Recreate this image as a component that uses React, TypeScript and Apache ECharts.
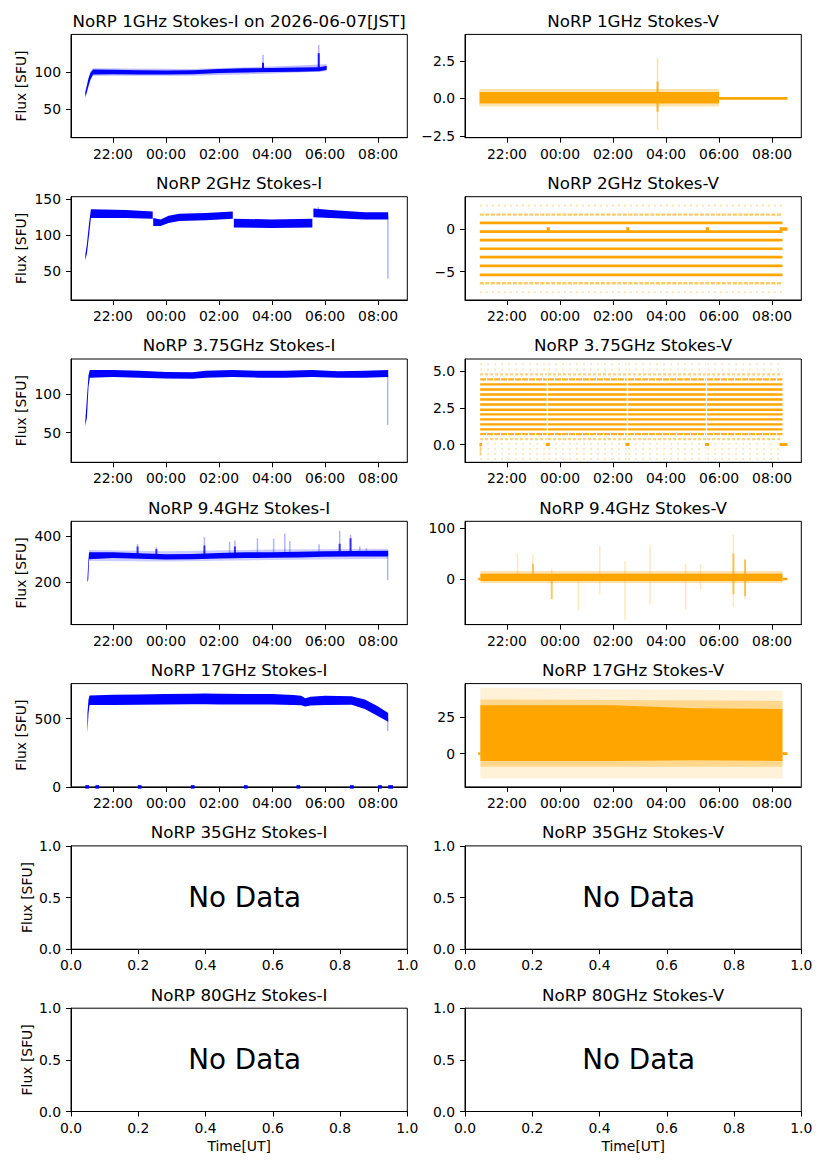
import React, { useEffect, useRef } from 'react';
import * as echarts from 'echarts';

// time is in hours from 2026-06-06 00:00 UT (24 = 00:00 of 06-07)
const X_MIN = 20.42;
const X_MAX = 33.1;
const X_TICKS = [22, 24, 26, 28, 30, 32];
const UNIT_X_TICKS = [0, 0.2, 0.4, 0.6, 0.8, 1.0];
const UNIT_Y_TICKS = [0, 0.5, 1.0];

const BLUE = '#0000ff';
const ORANGE = '#ffa500';
const FONT = 'DejaVu Sans';

// ---- 1 GHz ----  bands are [time, low, high]
const I1_HALO = [[[20.96, 65, 75], [21.15, 89, 101], [21.25, 95.5, 105.5], [25, 95.5, 104.5], [28, 98.5, 108], [30.06, 101.5, 111]]];
const I1_CORE = [[
  [20.96, 67, 73], [21.0, 71, 79], [21.08, 82, 92], [21.15, 90, 99], [21.25, 97, 104], [22, 97.5, 103.5],
  [23, 97, 103], [24, 97, 102.5], [25, 97.5, 103], [26, 99, 104.5], [27, 100, 105.5], [28, 100.5, 106],
  [29, 101, 106.5], [29.8, 101.5, 107], [30.06, 103.5, 109],
]];
const I1_SPIKES = [[27.66, 103, 124], [29.76, 104, 137]];
const I1_DENSE = [[27.66, 103, 113], [29.76, 104, 126]];

const V1_HALO = [[[20.96, -0.55, 0.62], [30.0, -0.55, 0.62]]];
const V1_CORE = [[[20.97, -0.35, 0.42], [30.0, -0.35, 0.42]]];
const V1_SPIKES = [[27.68, -2.1, 2.7]];
const V1_DENSE = [[27.68, -0.9, 1.1]];
const V1_ZERO = [[30.0, 32.58]];

// ---- 2 GHz ----
const I2_CORE = [
  [[20.96, 66, 73], [21.02, 75, 88], [21.1, 100, 116], [21.17, 124, 136], [22.5, 124, 135], [23.5, 123, 133]],
  [[23.52, 113, 124], [23.8, 113, 122], [24.1, 117, 127], [24.5, 120, 130], [25.5, 121, 131], [26.52, 123, 133]],
  [[26.56, 111, 123], [28.0, 110, 122], [29.52, 111, 123]],
  [[29.56, 125, 137], [30.2, 124, 135], [31.5, 122, 132], [32.38, 122, 132]],
];
const I2_SPIKES = [[32.37, 40, 126], [29.75, 130, 139]];

const LEVELS_2V_SOLID = [0.71, -0.31, -1.3, -2.32, -3.31, -4.33, -5.39];
const LEVELS_2V_MEDIUM = [1.69, -6.38];
const LEVELS_2V_SPARSE = [2.76, -7.44];
const SEGS_2V = [[20.98, 32.39]];
const ZERO_2V = [[23.5, 23.62], [26.5, 26.62], [29.5, 29.62], [32.28, 32.58]];

// ---- 3.75 GHz ----
const I375_CORE = [[
  [20.96, 59, 66], [21.02, 70, 95], [21.08, 110, 125], [21.13, 122, 132], [22, 123, 132], [23, 122, 131],
  [24, 121, 129.5], [25, 120.5, 129], [25.5, 122, 131], [26.5, 123, 132], [27.5, 122, 131], [28.5, 122, 131],
  [29.5, 123, 132], [30.5, 122, 130.5], [31.5, 122, 131], [32.38, 123, 132],
]];
const I375_SPIKES = [[32.36, 60, 125]];

const LEVELS_375V_SOLID = [4.09, 3.74, 3.4, 3.06, 2.72, 2.37, 2.05, 1.71, 1.37, 1.03];
const LEVELS_375V_SEMI = [4.43, 0.71];
const LEVELS_375V_MEDIUM = [4.77, 0.37];
const LEVELS_375V_SPARSE = [5.46, 5.11, 0.05, -0.3, -0.64, -0.98];
const SEGS_375V = [[20.99, 23.5], [23.55, 26.52], [26.57, 29.5], [29.55, 32.39]];
const ZERO_375V = [[20.97, 21.06], [23.47, 23.62], [26.47, 26.62], [29.47, 29.62], [32.28, 32.58]];
const V375_SPIKES = [[21.0, -0.75, 0.1]];

// ---- 9.4 GHz ----
const I94_HALO = [[[21.1, 292, 340], [24, 290, 335], [28, 296, 342], [32.38, 302, 346]]];
const I94_CORE = [[
  [21.04, 198, 215], [21.07, 210, 285], [21.1, 300, 330], [22, 305, 330], [23, 302, 326], [24, 298, 322],
  [25, 300, 323], [26, 303, 327], [27, 305, 330], [28, 306, 330], [29, 307, 332], [30, 310, 335],
  [31, 312, 336], [32.38, 312, 337],
]];
const I94_SPIKES = [
  [22.93, 320, 366], [23.64, 320, 352], [25.45, 320, 396], [26.4, 320, 375], [26.6, 320, 382],
  [27.45, 320, 392], [28.06, 320, 390], [28.48, 320, 412], [28.67, 320, 380], [29.77, 320, 365],
  [30.55, 320, 425], [30.96, 320, 407], [31.31, 320, 355], [31.56, 320, 348], [32.36, 208, 310],
];
const I94_DENSE = [[22.93, 320, 355], [23.64, 320, 345], [25.45, 320, 360], [26.6, 320, 355], [30.55, 320, 368], [30.96, 320, 392]];

const V94_HALO = [[[21.0, -8, 15], [32.39, -8, 15]]];
const V94_CORE = [[[21.0, -4, 10.5], [32.39, -4, 10.5]]];
const V94_SPIKES = [
  [22.98, -5, 48], [23.69, -10, 20], [25.5, -30, 65], [26.45, -80, 35], [27.4, -50, 67],
  [28.74, -60, 30], [30.54, -55, 87], [30.98, -40, 40], [24.7, -62, 5], [22.4, 5, 50], [29.3, -20, 30],
];
const V94_DENSE = [[22.98, 8, 30], [23.69, -40, 0], [30.54, -30, 50], [30.98, -34, 38]];
const V94_ZERO = [[20.92, 21.0], [32.39, 32.58]];

// ---- 17 GHz ----
const I17_CORE = [[
  [21.04, 395, 540], [21.08, 540, 640], [21.12, 600, 670], [22, 600, 675], [23, 602, 677], [24, 603, 680],
  [25, 605, 683], [25.5, 606, 685], [26, 604, 682], [27, 603, 681], [28, 603, 680], [28.8, 600, 674],
  [29.1, 598, 668], [29.25, 590, 650], [29.45, 597, 660], [30, 600, 668], [31, 602, 665], [31.5, 570, 640],
  [32, 517, 590], [32.38, 478, 541],
]];
const I17_SPIKES = [[32.36, 410, 500]];
const I17_ZERO = [
  [20.96, 21.1], [21.34, 21.48], [22.94, 23.08], [24.94, 25.08], [26.94, 27.08],
  [28.92, 29.06], [30.94, 31.08], [32.0, 32.14], [32.38, 32.56],
];

const V17_HALO = [[[21.0, -17, 45], [32.39, -17, 43]]];
const V17_MID = [[[21.0, -9, 37], [32.39, -9, 36]]];
const V17_CORE = [[[21.0, -5, 33], [26, -5, 33], [29, -4.5, 31], [32.39, -5, 30.5]]];
const V17_ZERO = [[20.92, 21.0], [32.39, 32.58]];

const TITLES = [
  'NoRP 1GHz Stokes-I on 2026-06-07[JST]', 'NoRP 1GHz Stokes-V',
  'NoRP 2GHz Stokes-I', 'NoRP 2GHz Stokes-V',
  'NoRP 3.75GHz Stokes-I', 'NoRP 3.75GHz Stokes-V',
  'NoRP 9.4GHz Stokes-I', 'NoRP 9.4GHz Stokes-V',
  'NoRP 17GHz Stokes-I', 'NoRP 17GHz Stokes-V',
  'NoRP 35GHz Stokes-I', 'NoRP 35GHz Stokes-V',
  'NoRP 80GHz Stokes-I', 'NoRP 80GHz Stokes-V',
];
const Y_RANGES = [
  [11.6, 151.4], [-2.63, 4.27], [10.5, 153.5], [-8.35, 3.8], [11.3, 146.4], [-1.21, 5.82],
  [13, 466], [-89.6, 113.3], [0, 757], [-22.7, 47.8], [0, 1], [0, 1], [0, 1], [0, 1],
];
const Y_TICKS = [
  [50, 100], [-2.5, 0, 2.5], [50, 100, 150], [-5, 0], [50, 100], [0, 2.5, 5],
  [200, 400], [0, 100], [0, 500], [0, 25], UNIT_Y_TICKS, UNIT_Y_TICKS, UNIT_Y_TICKS, UNIT_Y_TICKS,
];
const Y_DECIMALS = [0, 1, 0, 0, 0, 1, 0, 0, 0, 0, 1, 1, 1, 1];

const ROW_TOP = 34.4;
const ROW_STEP = 162.3;
const ROW_H = 103.3;
const COL_X = [71, 465];
const COL_W = 336.3;

const fmt = (v: number, d: number) => (v < 0 ? '\u2212' : '') + Math.abs(v).toFixed(d);
const hourLabel = (v: number) => `${String(((Math.round(v) % 24) + 24) % 24).padStart(2, '0')}:00`;

const band = (gi: number, segs: number[][][], color: string, opacity: number) => ({
  type: 'custom', xAxisIndex: gi, yAxisIndex: gi, silent: true, clip: true,
  data: segs.map(s => s[0]),
  renderItem: (params: any, api: any) => {
    const seg = segs[params.dataIndex];
    const upper = seg.map(r => api.coord([r[0], r[2]]));
    const lower = seg.map(r => api.coord([r[0], r[1]])).reverse();
    return { type: 'polygon', shape: { points: upper.concat(lower) }, style: { fill: color, opacity } };
  },
});

const spikes = (gi: number, rows: number[][], color: string, width: number, opacity: number) => ({
  type: 'custom', xAxisIndex: gi, yAxisIndex: gi, silent: true, clip: true,
  data: rows,
  renderItem: (_: any, api: any) => {
    const a = api.coord([api.value(0), api.value(1)]);
    const b = api.coord([api.value(0), api.value(2)]);
    return { type: 'line', shape: { x1: a[0], y1: a[1], x2: b[0], y2: b[1] }, style: { stroke: color, lineWidth: width, opacity } };
  },
});

// rows: [t0, t1, value]
const hlines = (gi: number, rows: number[][], color: string, width: number, opacity: number, dash?: number[], clip = true) => ({
  type: 'custom', xAxisIndex: gi, yAxisIndex: gi, silent: true, clip,
  data: rows,
  renderItem: (_: any, api: any) => {
    const a = api.coord([api.value(0), api.value(2)]);
    const b = api.coord([api.value(1), api.value(2)]);
    return {
      type: 'line', shape: { x1: a[0], y1: a[1], x2: b[0], y2: b[1] },
      style: { stroke: color, lineWidth: width, opacity, lineDash: dash || null },
    };
  },
});

const levelRows = (levels: number[], segs: number[][]) =>
  levels.flatMap(l => segs.map(s => [s[0], s[1], l]));
const zeroRows = (segs: number[][]) => segs.map(s => [s[0], s[1], 0]);

function buildSeries() {
  const s: any[] = [];
  // 1 GHz
  s.push(band(0, I1_HALO, BLUE, 0.25), band(0, I1_CORE, BLUE, 1));
  s.push(spikes(0, I1_SPIKES, BLUE, 1.5, 0.3), spikes(0, I1_DENSE, BLUE, 2, 0.9));
  s.push(band(1, V1_HALO, ORANGE, 0.3), band(1, V1_CORE, ORANGE, 1));
  s.push(spikes(1, V1_SPIKES, ORANGE, 1.5, 0.35), spikes(1, V1_DENSE, ORANGE, 2, 0.8));
  s.push(hlines(1, zeroRows(V1_ZERO), ORANGE, 2.6, 1));
  // 2 GHz
  s.push(band(2, I2_CORE, BLUE, 1), spikes(2, I2_SPIKES, BLUE, 1.5, 0.3));
  s.push(hlines(3, levelRows(LEVELS_2V_SPARSE, SEGS_2V), ORANGE, 2.2, 0.3, [2, 4]));
  s.push(hlines(3, levelRows(LEVELS_2V_MEDIUM, SEGS_2V), ORANGE, 2.4, 0.6, [4, 1.5]));
  s.push(hlines(3, levelRows(LEVELS_2V_SOLID, SEGS_2V), ORANGE, 2.7, 1));
  s.push(hlines(3, zeroRows(ZERO_2V), ORANGE, 3.5, 1));
  // 3.75 GHz
  s.push(band(4, I375_CORE, BLUE, 1), spikes(4, I375_SPIKES, BLUE, 1.5, 0.3));
  s.push(hlines(5, levelRows(LEVELS_375V_SPARSE, SEGS_375V), ORANGE, 2, 0.25, [2, 5]));
  s.push(hlines(5, levelRows(LEVELS_375V_MEDIUM, SEGS_375V), ORANGE, 2.2, 0.5, [3, 2]));
  s.push(hlines(5, levelRows(LEVELS_375V_SEMI, SEGS_375V), ORANGE, 2.4, 0.85, [6, 1]));
  s.push(hlines(5, levelRows(LEVELS_375V_SOLID, SEGS_375V), ORANGE, 2.4, 1));
  s.push(hlines(5, zeroRows(ZERO_375V), ORANGE, 3, 1), spikes(5, V375_SPIKES, ORANGE, 1.5, 0.5));
  // 9.4 GHz
  s.push(band(6, I94_HALO, BLUE, 0.2), band(6, I94_CORE, BLUE, 1));
  s.push(spikes(6, I94_SPIKES, BLUE, 1.5, 0.3), spikes(6, I94_DENSE, BLUE, 2, 0.75));
  s.push(band(7, V94_HALO, ORANGE, 0.35), band(7, V94_CORE, ORANGE, 1));
  s.push(spikes(7, V94_SPIKES, ORANGE, 1.5, 0.25), spikes(7, V94_DENSE, ORANGE, 2, 0.6));
  s.push(hlines(7, zeroRows(V94_ZERO), ORANGE, 2.6, 1));
  // 17 GHz
  s.push(band(8, I17_CORE, BLUE, 1), spikes(8, I17_SPIKES, BLUE, 1.5, 0.3));
  s.push(hlines(8, zeroRows(I17_ZERO), BLUE, 3.5, 1, undefined, false));
  s.push(band(9, V17_HALO, ORANGE, 0.15), band(9, V17_MID, ORANGE, 0.35), band(9, V17_CORE, ORANGE, 1));
  s.push(hlines(9, zeroRows(V17_ZERO), ORANGE, 2.6, 1));
  return s;
}

const App: React.FC = () => {
  const chartRef = useRef<HTMLDivElement>(null);

  useEffect(() => {
    if (!chartRef.current) return;
    const chart = echarts.init(chartRef.current, null, { renderer: 'svg' });

    const grids: any[] = [];
    const xAxes: any[] = [];
    const yAxes: any[] = [];
    const graphics: any[] = [];
    const tickStyle = { color: '#000', fontSize: 13.9, fontFamily: FONT };

    TITLES.forEach((title, p) => {
      const row = Math.floor(p / 2);
      const col = p % 2;
      const left = COL_X[col];
      const top = ROW_TOP + row * ROW_STEP;
      const noData = row >= 5;
      grids.push({ left, top, width: COL_W, height: ROW_H, show: true, borderColor: '#000', borderWidth: 1, backgroundColor: 'transparent' });

      const xt = noData ? UNIT_X_TICKS : X_TICKS;
      xAxes.push({
        gridIndex: p, type: 'value',
        min: noData ? 0 : X_MIN, max: noData ? 1 : X_MAX,
        axisLine: { show: true, onZero: false, lineStyle: { color: '#000', width: 1 } },
        axisTick: { show: true, customValues: xt, length: 5, lineStyle: { color: '#000', width: 1 } },
        axisLabel: { customValues: xt, margin: 9, ...tickStyle, formatter: (v: number) => (noData ? v.toFixed(1) : hourLabel(v)) },
        splitLine: { show: false },
        name: row === 6 ? 'Time[UT]' : '',
        nameLocation: 'middle', nameGap: 27,
        nameTextStyle: tickStyle,
      });

      const yt = Y_TICKS[p];
      yAxes.push({
        gridIndex: p, type: 'value', min: Y_RANGES[p][0], max: Y_RANGES[p][1],
        axisLine: { show: true, onZero: false, lineStyle: { color: '#000', width: 1 } },
        axisTick: { show: true, customValues: yt, length: 5, lineStyle: { color: '#000', width: 1 } },
        axisLabel: { customValues: yt, margin: 10, ...tickStyle, formatter: (v: number) => fmt(v, Y_DECIMALS[p]) },
        splitLine: { show: false },
        name: col === 0 ? 'Flux [SFU]' : '',
        nameLocation: 'middle', nameGap: noData ? 37 : 43,
        nameTextStyle: tickStyle,
      });

      graphics.push({
        type: 'text', x: left + COL_W / 2, y: top - 13.6, silent: true,
        style: { text: title, textAlign: 'center', textVerticalAlign: 'middle', fontSize: 16.7, fontFamily: FONT, fill: '#000' },
      });
      if (noData) {
        graphics.push({
          type: 'text', x: left + COL_W / 2 + 5.5, y: top + ROW_H / 2, silent: true,
          style: { text: 'No Data', textAlign: 'center', textVerticalAlign: 'middle', fontSize: 27.8, fontFamily: FONT, fill: '#000' },
        });
      }
    });

    chart.setOption({
      animation: false,
      backgroundColor: '#fff',
      grid: grids,
      xAxis: xAxes,
      yAxis: yAxes,
      series: buildSeries(),
      graphic: graphics,
    });

    return () => chart.dispose();
  }, []);

  return (
    <div
      ref={chartRef}
      style={{ position: 'fixed', left: 0, top: 0, width: '827px', height: '1169px', background: '#fff' }}
    />
  );
};

export default App;
